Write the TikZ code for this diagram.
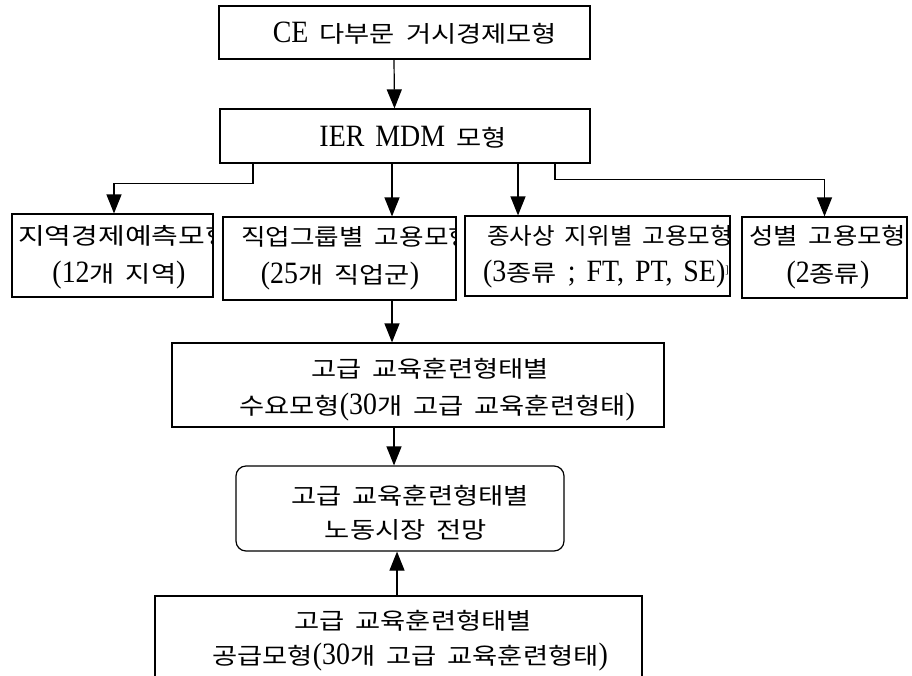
\documentclass[tikz,border=0pt]{standalone}
\usepackage{graphicx}
\usepackage{fontspec}
\setmainfont{Liberation Serif}[FakeStretch=0.9]
\newfontfamily\kr[FakeStretch=1.19]{Noto Sans CJK KR}
\usetikzlibrary{arrows.meta}
\newcommand\K[1]{{\kr\fontsize{23}{34}\selectfont #1}}
\newcommand\KW[2]{\resizebox{#1}{\height}{\K{#2}}}
\newcommand\mywsp{\spaceskip 11pt\relax}
\newcommand\myfont{\fontsize{31}{34}\selectfont\mywsp}
\tikzset{
  box/.style={draw, line width=1.2pt, inner sep=0pt, rectangle},
  txt/.style={inner sep=0pt, font=\myfont},
  arr/.style={line width=1.2pt, -{Triangle[length=19pt,width=15pt]}}
}
\begin{document}
\begin{tikzpicture}[x=1pt,y=-1pt]
\clip (0,0) rectangle (912,675);
% boxes
\node[box, minimum width=371pt, minimum height=53pt] (ce) at (404.5,32.5) {};
\node[box, minimum width=370pt, minimum height=54pt] (ier) at (405,136) {};
\node[box, minimum width=201pt, minimum height=83pt] (reg) at (112.5,255.5) {};
\node[box, minimum width=233pt, minimum height=83pt] (occ) at (339.5,258.5) {};
\node[box, minimum width=265pt, minimum height=80pt] (sta) at (597.5,256) {};
\node[box, minimum width=165pt, minimum height=81pt] (sex) at (824.5,257.5) {};
\node[box, minimum width=492pt, minimum height=84pt] (dem) at (418,385) {};
\node[box, rounded corners=10pt, minimum width=328pt, minimum height=85pt] (lm) at (400,508.5) {};
\node[box, minimum width=487pt, minimum height=104pt] (sup) at (398.5,648) {};
% texts
\node[txt, anchor=base] (ceT) at (415,42) {CE \K{다부문 거시경제모형}};
\node[txt, anchor=base] (ierT) at (413,146) {IER MDM \K{모형}};
\begin{scope}
\clip ([xshift=1pt]reg.south west) rectangle ([xshift=-2pt]reg.north east);
\node[txt, anchor=base west] (regA) at (18,244.5) {\KW{214pt}{지역경제예측모형}};
\node[txt, anchor=base] (regB) at (119,282.5) {(12\K{개 지역})};
\end{scope}
\begin{scope}
\clip ([xshift=1pt]occ.south west) rectangle ([xshift=-2pt]occ.north east);
\node[txt, anchor=base west] (occA) at (241,245) {\KW{232pt}{직업그룹별 고용모형}};
\node[txt, anchor=base] (occB) at (340,283) {(25\K{개 직업군})};
\end{scope}
\begin{scope}
\clip ([xshift=1pt]sta.south west) rectangle ([xshift=-2pt]sta.north east);
\node[txt, anchor=base west] (staA) at (487,244) {\KW{246pt}{종사상 지위별 고용모형}};
\node[txt, anchor=base west] (staB) at (483,281) {(3\K{종류} ; FT, PT, SE)\raisebox{8pt}{\fontsize{11}{11}\selectfont ]}};
\end{scope}
\begin{scope}
\clip ([xshift=1pt]sex.south west) rectangle ([xshift=-2pt]sex.north east);
\node[txt, anchor=base west] (sexA) at (749,244) {\KW{157pt}{성별 고용모형}};
\node[txt, anchor=base] (sexB) at (828,282) {(2\K{종류})};
\end{scope}
\node[txt, anchor=base] (demA) at (430,377) {\K{고급 교육훈련형태별}};
\node[txt, anchor=base] (demB) at (437,414) {\K{수요모형}(30\K{개 고급 교육훈련형태})};
\node[txt, anchor=base] (lmA) at (410,504) {\K{고급 교육훈련형태별}};
\node[txt, anchor=base] (lmB) at (406,538) {\K{노동시장 전망}};
\node[txt, anchor=base] (supA) at (413,629) {\K{고급 교육훈련형태별}};
\node[txt, anchor=base] (supB) at (410,664) {\K{공급모형}(30\K{개 고급 교육훈련형태})};
% connectors
\draw[arr] ([xshift=-10.5pt]ce.south) -- ([xshift=-10.5pt]ier.north);
\draw[arr] ([xshift=-152pt]ier.south) -- ++(0,20) -| ([xshift=1.5pt]reg.north);
\draw[arr] ([xshift=-13pt]ier.south) -- ([xshift=52.5pt]occ.north);
\draw[arr] ([xshift=113pt]ier.south) -- ([xshift=-79.5pt]sta.north);
\draw[arr] ([xshift=150pt]ier.south) -- ++(0,16) -| (sex.north);
\draw[arr] ([xshift=52.5pt]occ.south) -- ([xshift=-26pt]dem.north);
\draw[arr] ([xshift=-24pt]dem.south) -- ([xshift=-6pt]lm.north);
\draw[arr] ([xshift=-1.5pt]sup.north) -- ([xshift=-3pt]lm.south);
\end{tikzpicture}
\end{document}
